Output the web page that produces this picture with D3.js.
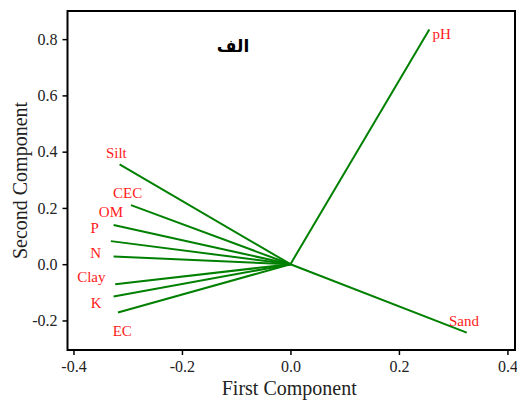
<!DOCTYPE html>
<html>
<head>
<meta charset="utf-8">
<script src="https://cdn.jsdelivr.net/npm/d3@7"></script>
<style>
  html, body { margin: 0; padding: 0; background: #fff; }
  svg { display: block; }
</style>
</head>
<body>
<svg id="chart" width="517" height="404"></svg>
<script>
// ---- data ----
const variables = ["pH", "Sand", "Silt", "CEC", "OM", "P", "N", "Clay", "K", "EC"];
const pc1 = [0.256, 0.325, -0.315, -0.294, -0.326, -0.331, -0.326, -0.323, -0.326, -0.318];
const pc2 = [0.834, -0.243, 0.355, 0.210, 0.139, 0.082, 0.027, -0.071, -0.115, -0.172];
const labelPc1 = [0.279, 0.320, -0.321, -0.300, -0.331, -0.361, -0.359, -0.367, -0.358, -0.310];
const labelPc2 = [0.799, -0.220, 0.376, 0.236, 0.167, 0.110, 0.021, -0.064, -0.155, -0.255];
const xTicks = [-0.4, -0.2, 0.0, 0.2, 0.4];
const yTicks = [-0.2, 0.0, 0.2, 0.4, 0.6, 0.8];
const xDomain = [-0.411, 0.414];
const yDomain = [-0.305, 0.9];
const title = "الف";
const xTitle = "First Component";
const yTitle = "Second Component";

// ---- layout ----
const plot = { left: 67.5, right: 515, top: 11, bottom: 350 };
const serif = "'Liberation Serif', 'Times New Roman', serif";

const svg = d3.select("#chart");
const x = d3.scaleLinear().domain(xDomain).range([plot.left, plot.right]);
const y = d3.scaleLinear().domain(yDomain).range([plot.bottom, plot.top]);

// axes
const xAxis = svg.append("g")
  .attr("transform", `translate(0,${plot.bottom})`)
  .call(d3.axisBottom(x).tickValues(xTicks).tickFormat(d3.format(".1f")).tickSizeOuter(0).tickSizeInner(5).tickPadding(6));
const yAxis = svg.append("g")
  .attr("transform", `translate(${plot.left},0)`)
  .call(d3.axisLeft(y).tickValues(yTicks).tickFormat(d3.format(".1f")).tickSizeOuter(0).tickSizeInner(5).tickPadding(5));
[xAxis, yAxis].forEach(g => {
  g.select(".domain").remove();
  g.selectAll(".tick line").attr("stroke", "#000").attr("stroke-width", 1.5);
  g.selectAll(".tick text").attr("font-family", serif).attr("font-size", 16).attr("fill", "#222");
});
xAxis.selectAll(".tick text").text(d => d3.format(".1f")(d).replace("−", "-"));
yAxis.selectAll(".tick text").text(d => d3.format(".1f")(d).replace("−", "-"));

// frame
svg.append("rect")
  .attr("x", plot.left).attr("y", plot.top)
  .attr("width", plot.right - plot.left).attr("height", plot.bottom - plot.top)
  .attr("fill", "none").attr("stroke", "#000").attr("stroke-width", 2);

// vectors
const data = variables.map((v, i) => ({ v, x: pc1[i], y: pc2[i], lx: labelPc1[i], ly: labelPc2[i] }));
svg.append("g").selectAll("line").data(data).join("line")
  .attr("x1", x(0)).attr("y1", y(0))
  .attr("x2", d => x(d.x)).attr("y2", d => y(d.y))
  .attr("stroke", "#008000").attr("stroke-width", 2);

svg.append("g").selectAll("text").data(data).join("text")
  .attr("x", d => x(d.lx)).attr("y", d => y(d.ly))
  .attr("text-anchor", "middle")
  .attr("font-family", serif).attr("font-size", 15)
  .attr("fill", "#ff1a1a")
  .text(d => d.v);

// title
svg.append("text")
  .attr("x", 233).attr("y", 52)
  .attr("text-anchor", "middle")
  .attr("font-family", "'DejaVu Sans', sans-serif").attr("font-weight", "bold").attr("font-size", 17)
  .attr("direction", "rtl")
  .attr("fill", "#000")
  .text(title);

// axis titles
svg.append("text")
  .attr("x", (plot.left + plot.right) / 2 - 2).attr("y", 395)
  .attr("text-anchor", "middle")
  .attr("font-family", serif).attr("font-size", 20).attr("fill", "#222")
  .text(xTitle);
svg.append("text")
  .attr("transform", `translate(26.5,${(plot.top + plot.bottom) / 2}) rotate(-90)`)
  .attr("text-anchor", "middle")
  .attr("font-family", serif).attr("font-size", 20).attr("fill", "#222")
  .text(yTitle);
</script>
</body>
</html>
